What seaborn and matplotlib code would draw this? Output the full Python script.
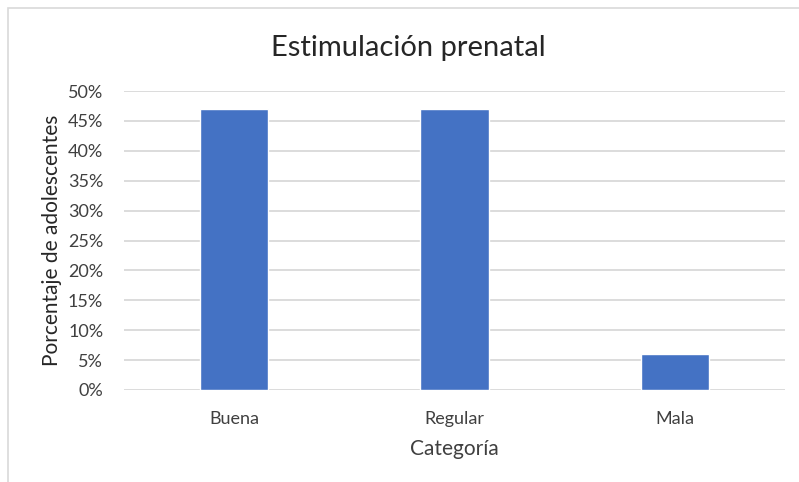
import pandas as pd
import seaborn as sns
import matplotlib.pyplot as plt
from matplotlib.patches import Rectangle
from matplotlib.ticker import PercentFormatter

# Data
categorias = ["Buena", "Regular", "Mala"]
porcentajes = [47, 47, 6]

df = pd.DataFrame({"Categoría": categorias, "Porcentaje": porcentajes})

sns.set_theme(style="white")
plt.rcParams['font.family'] = ['Lato', 'DejaVu Sans']
text_color = "#404040"

fig = plt.figure(figsize=(7.99, 4.82), dpi=100)
ax = fig.add_axes([124 / 799, 1 - 390 / 482, 661 / 799, 299 / 482])

sns.barplot(data=df, x="Categoría", y="Porcentaje", color="#4472C4",
            width=0.31, saturation=1, ax=ax, zorder=3)

ax.set_ylim(0, 50)
ax.set_yticks(range(0, 51, 5))
ax.yaxis.set_major_formatter(PercentFormatter(decimals=0))
ax.grid(axis="y", color="#D9D9D9", linewidth=1.3, zorder=0)
for s in ax.spines.values():
    s.set_visible(False)
ax.tick_params(axis="both", length=0, labelsize=13, colors=text_color)
ax.tick_params(axis="y", pad=15)
ax.tick_params(axis="x", pad=15)

ax.set_xlabel("Categoría", fontsize=15, color=text_color, labelpad=9)
ax.set_ylabel("Porcentaje de adolescentes", fontsize=15, color="#262626", labelpad=4)
fig.text(0.511, 1 - 48 / 482, "Estimulación prenatal", fontsize=21,
         color="#262626", ha="center", va="center")

# chart area border
fig.add_artist(Rectangle((8 / 799, -0.1), 1.2, 1 - 8 / 482 + 0.1,
                         transform=fig.transFigure, fill=False,
                         edgecolor="#D9D9D9", linewidth=1.2))

fig.savefig("out.png", dpi=100)
